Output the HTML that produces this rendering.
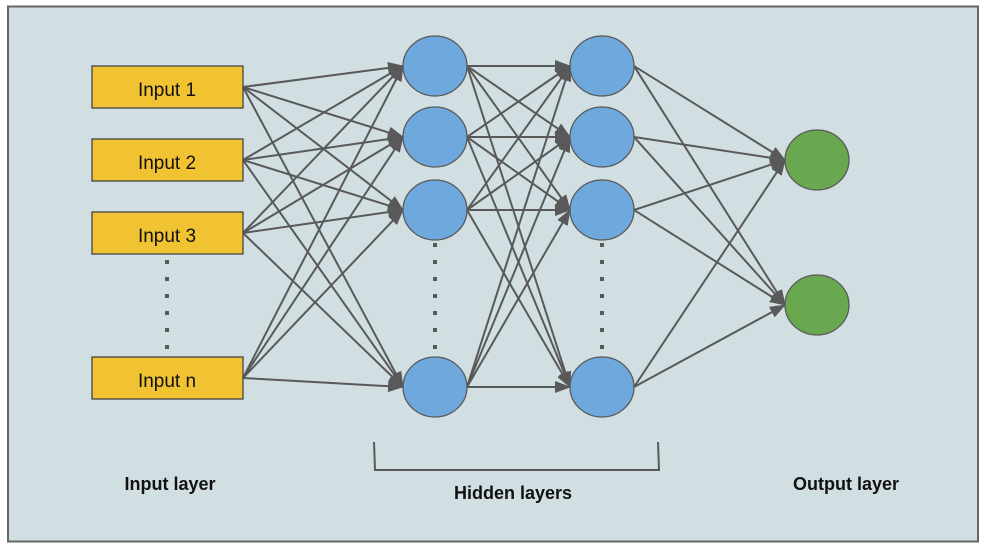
<!DOCTYPE html>
<html><head><style>
html,body{margin:0;padding:0;background:#fff;}
svg{display:block;}
text{font-family:"Liberation Sans",Arial,sans-serif;}
</style></head><body>
<svg width="989" height="547" viewBox="0 0 989 547" xmlns="http://www.w3.org/2000/svg">
<defs>
<marker id="a" markerUnits="userSpaceOnUse" markerWidth="16" markerHeight="12" refX="15" refY="6" orient="auto">
<path d="M0,0 L16,6 L0,12 z" fill="#595959"/>
</marker>
</defs>
<rect x="8" y="6.5" width="970" height="535" fill="#d1dfe2" stroke="#666" stroke-width="2"/>
<g stroke="#595959" stroke-width="2" fill="none" marker-end="url(#a)">
<!-- input -> hidden1 -->
<line x1="243" y1="87" x2="403" y2="66"/><line x1="243" y1="87" x2="403" y2="137"/><line x1="243" y1="87" x2="403" y2="210"/><line x1="243" y1="87" x2="403" y2="387"/>
<line x1="243" y1="160" x2="403" y2="66"/><line x1="243" y1="160" x2="403" y2="137"/><line x1="243" y1="160" x2="403" y2="210"/><line x1="243" y1="160" x2="403" y2="387"/>
<line x1="243" y1="233" x2="403" y2="66"/><line x1="243" y1="233" x2="403" y2="137"/><line x1="243" y1="233" x2="403" y2="210"/><line x1="243" y1="233" x2="403" y2="387"/>
<line x1="243" y1="378" x2="403" y2="66"/><line x1="243" y1="378" x2="403" y2="137"/><line x1="243" y1="378" x2="403" y2="210"/><line x1="243" y1="378" x2="403" y2="387"/>
<!-- hidden1 -> hidden2 -->
<line x1="467" y1="66" x2="570" y2="66"/><line x1="467" y1="66" x2="570" y2="137"/><line x1="467" y1="66" x2="570" y2="210"/><line x1="467" y1="66" x2="570" y2="387"/>
<line x1="467" y1="137" x2="570" y2="66"/><line x1="467" y1="137" x2="570" y2="137"/><line x1="467" y1="137" x2="570" y2="210"/><line x1="467" y1="137" x2="570" y2="387"/>
<line x1="467" y1="210" x2="570" y2="66"/><line x1="467" y1="210" x2="570" y2="137"/><line x1="467" y1="210" x2="570" y2="210"/><line x1="467" y1="210" x2="570" y2="387"/>
<line x1="467" y1="387" x2="570" y2="66"/><line x1="467" y1="387" x2="570" y2="137"/><line x1="467" y1="387" x2="570" y2="210"/><line x1="467" y1="387" x2="570" y2="387"/>
<!-- hidden2 -> output -->
<line x1="634" y1="66" x2="785" y2="160"/><line x1="634" y1="66" x2="785" y2="305"/>
<line x1="634" y1="137" x2="785" y2="160"/><line x1="634" y1="137" x2="785" y2="305"/>
<line x1="634" y1="210" x2="785" y2="160"/><line x1="634" y1="210" x2="785" y2="305"/>
<line x1="634" y1="387" x2="785" y2="160"/><line x1="634" y1="387" x2="785" y2="305"/>
</g>
<!-- dotted -->
<g stroke="#595959" stroke-width="4" stroke-dasharray="4 13">
<line x1="167" y1="260" x2="167" y2="352"/>
<line x1="435" y1="243" x2="435" y2="352"/>
<line x1="602" y1="243" x2="602" y2="352"/>
</g>
<!-- inputs -->
<g fill="#f1c232" stroke="#444" stroke-width="1.3">
<rect x="92" y="66" width="151" height="42"/>
<rect x="92" y="139" width="151" height="42"/>
<rect x="92" y="212" width="151" height="42"/>
<rect x="92" y="357" width="151" height="42"/>
</g>
<g font-size="19" fill="#111" text-anchor="middle">
<text x="167" y="96">Input 1</text>
<text x="167" y="169">Input 2</text>
<text x="167" y="242">Input 3</text>
<text x="167" y="387">Input n</text>
</g>
<!-- hidden -->
<g fill="#6fa8dc" stroke="#595959" stroke-width="1.3">
<ellipse cx="435" cy="66" rx="32" ry="30"/><ellipse cx="435" cy="137" rx="32" ry="30"/><ellipse cx="435" cy="210" rx="32" ry="30"/><ellipse cx="435" cy="387" rx="32" ry="30"/>
<ellipse cx="602" cy="66" rx="32" ry="30"/><ellipse cx="602" cy="137" rx="32" ry="30"/><ellipse cx="602" cy="210" rx="32" ry="30"/><ellipse cx="602" cy="387" rx="32" ry="30"/>
</g>
<g fill="#6aa84f" stroke="#595959" stroke-width="1.3">
<ellipse cx="817" cy="160" rx="32" ry="30"/><ellipse cx="817" cy="305" rx="32" ry="30"/>
</g>
<!-- bracket -->
<path d="M374,442 L375,470 L659,470 L658,442" fill="none" stroke="#595959" stroke-width="2"/>
<g font-size="18" font-weight="bold" fill="#111" text-anchor="middle">
<text x="170" y="490">Input layer</text>
<text x="513" y="499">Hidden layers</text>
<text x="846" y="490">Output layer</text>
</g>
</svg>
</body></html>
